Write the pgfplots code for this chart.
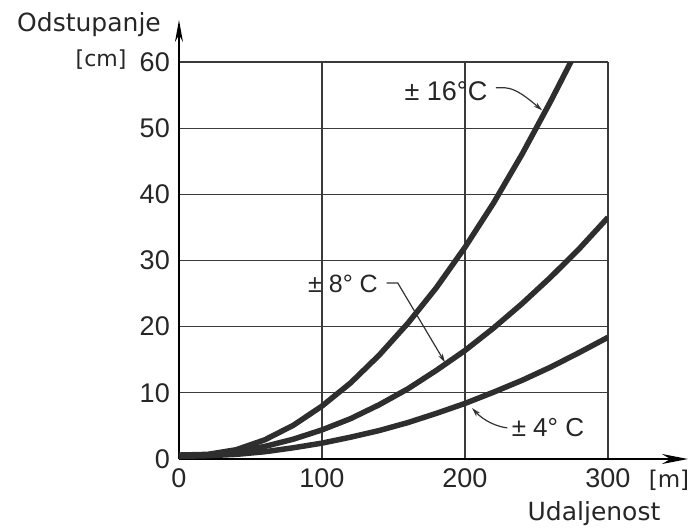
\documentclass[border=0pt]{standalone}
\usepackage{pgfplots}
\pgfplotsset{compat=1.18}
\usepackage{fontspec}
\setmainfont{DejaVu Sans}
\newfontfamily\lib{Liberation Sans}
\usetikzlibrary{arrows.meta}
\definecolor{curve}{HTML}{2E2E2E}
\definecolor{gridc}{HTML}{3A3A3A}

\pgfplotstableread{
x y
0 0.6
20 0.7
40 1.4
60 2.9
80 5.1
100 8.0
120 11.5
140 15.7
160 20.5
180 25.9
200 32.0
220 38.7
240 46.1
260 54.1
274 60.0
278 61.8
}\sixteen
\pgfplotstableread{
x y
0 0.5
20 0.6
40 1.1
60 1.9
80 3.0
100 4.4
120 6.1
140 8.2
160 10.6
180 13.4
200 16.4
220 19.8
240 23.5
260 27.5
280 31.8
300 36.5
}\eight
\pgfplotstableread{
x y
0 0.4
20 0.5
40 0.7
60 1.1
80 1.7
100 2.4
120 3.3
140 4.3
160 5.5
180 6.9
200 8.4
220 10.1
240 11.9
260 13.9
280 16.1
300 18.4
}\four

\begin{document}
\begin{tikzpicture}
\begin{axis}[
  scale only axis, width=429pt, height=397pt,
  xmin=0, xmax=300, ymin=0, ymax=60,
  enlargelimits=false,
  axis lines=left,
  x axis line style={line width=1.6pt, -{Stealth[length=26pt,width=10pt]}, shorten >=-80pt},
  y axis line style={line width=1.6pt, -{Stealth[length=22pt,width=8pt]}, shorten >=-42pt},
  xtick={0,100,200,300}, ytick={0,10,20,30,40,50,60},
  grid=major, grid style={line width=1.3pt, color=gridc},
  major tick length=0pt,
  tick label style={font=\lib\fontsize{27}{30}\selectfont, text=black!85},
  yticklabel style={inner sep=0pt, anchor=east, xshift=-9pt},
  xticklabel style={inner sep=0pt, anchor=north, yshift=-9pt},
  /pgf/number format/assume math mode=true,
  clip mode=individual,
]
\addplot[curve, line width=5.5pt, line cap=butt] table {\sixteen};
\addplot[curve, line width=5.5pt] table {\eight};
\addplot[curve, line width=5.5pt] table {\four};

% labels
\node[font=\fontsize{25}{28}\selectfont, text=black!85] at (axis cs:-62.9,65.6) {Odstupanje};
\node[font=\fontsize{22}{26}\selectfont, text=black!85] at (axis cs:-54.5,60.3) {[cm]};
\node[font=\fontsize{25}{28}\selectfont, text=black!85] at (axis cs:290.2,-8.2) {Udaljenost};
\node[font=\fontsize{23}{26}\selectfont, text=black!85] at (axis cs:342.7,-3.2) {[m]};

\node[font=\lib\fontsize{27}{30}\selectfont, text=black!85] at (axis cs:186.7,55.6) {± 16°C};
\node[font=\lib\fontsize{25}{28}\selectfont, text=black!85] at (axis cs:114.7,26.4) {± 8° C};
\node[font=\lib\fontsize{26}{29}\selectfont, text=black!85] at (axis cs:258,4.8) {± 4° C};

\draw[line width=1.2pt, black!80, -{Stealth[length=9pt,width=5pt]}]
  (axis cs:221.6,56.1) -- (axis cs:228,56.1) .. controls (axis cs:236,56) and (axis cs:244,54.5) .. (axis cs:254,52.7);
\draw[line width=1.2pt, black!80, -{Stealth[length=9pt,width=5pt]}]
  (axis cs:145.2,26.6) -- (axis cs:153,26.6) -- (axis cs:186,14.6);
\draw[line width=1.2pt, black!80, -{Stealth[length=9pt,width=5pt]}]
  (axis cs:229.6,4.7) .. controls (axis cs:222,4.9) and (axis cs:213,5.8) .. (axis cs:205,7.7);

\coordinate (bbll) at (rel axis cs:-0.4172,-0.1713);
\coordinate (bbur) at (rel axis cs:1.1935,1.1562);
\end{axis}
\pgfresetboundingbox
\path (bbll) rectangle (bbur);
\end{tikzpicture}
\end{document}
